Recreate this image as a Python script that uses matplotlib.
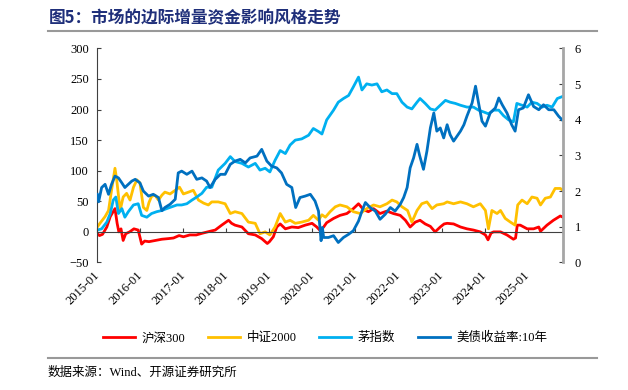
import matplotlib
matplotlib.use("Agg")
import matplotlib.pyplot as plt
from matplotlib.lines import Line2D

# 沪深300 (left axis)
hs300_x = [2015.00, 2015.05, 2015.12, 2015.22, 2015.30, 2015.41, 2015.46, 2015.50, 2015.55, 2015.60,
           2015.66, 2015.75, 2015.85, 2015.95, 2016.03, 2016.10, 2016.20, 2016.35, 2016.50, 2016.65,
           2016.77, 2016.90, 2017.00, 2017.15, 2017.30, 2017.45, 2017.62, 2017.74, 2017.89, 2018.05,
           2018.12, 2018.20, 2018.36, 2018.51, 2018.67, 2018.82, 2018.95, 2019.00, 2019.09, 2019.17,
           2019.25, 2019.37, 2019.52, 2019.67, 2019.83, 2019.99, 2020.10, 2020.18, 2020.26, 2020.33,
           2020.49, 2020.64, 2020.80, 2020.95, 2021.07, 2021.19, 2021.30, 2021.42, 2021.57, 2021.73,
           2021.88, 2022.04, 2022.16, 2022.27, 2022.39, 2022.50, 2022.62, 2022.74, 2022.85, 2022.97,
           2023.06, 2023.13, 2023.28, 2023.44, 2023.59, 2023.74, 2023.90, 2024.02, 2024.08, 2024.15,
           2024.21, 2024.37, 2024.52, 2024.67, 2024.72, 2024.76, 2024.83, 2024.99, 2025.14, 2025.26,
           2025.30, 2025.45, 2025.60, 2025.76, 2025.82]
hs300_y = [-3, -6, -4, 8, 25, 38, 14, 0, 5, -14,
           -3, 0, 5, 3, -20, -15, -16, -14, -12, -11,
           -10, -6, -8, -5, -5, -2, 1, 3, 11, 19,
           14, 11, 8, -3, -5, -11, -19, -16, -8, 8,
           13, 5, 8, 7, 11, 14, 8, 2, 8, 15,
           22, 27, 30, 38, 46, 36, 33, 38, 30, 34,
           30, 27, 19, 8, 16, 19, 13, 9, 0, 8,
           13, 14, 13, 8, 5, 3, 0, -5, -13, -2,
           0, 0, -5, -12, -10, 11, 11, 5, 5, 8,
           1, 11, 19, 26, 24]

# 中证2000 (left axis)
zz2000_x = [2015.00, 2015.06, 2015.18, 2015.26, 2015.33, 2015.41, 2015.45, 2015.53, 2015.60, 2015.68,
            2015.76, 2015.84, 2015.92, 2015.99, 2016.07, 2016.15, 2016.20, 2016.26, 2016.34, 2016.42,
            2016.50, 2016.57, 2016.69, 2016.81, 2016.91, 2017.00, 2017.12, 2017.23, 2017.35, 2017.47,
            2017.58, 2017.66, 2017.81, 2017.97, 2018.09, 2018.20, 2018.36, 2018.51, 2018.67, 2018.78,
            2018.90, 2019.01, 2019.13, 2019.25, 2019.37, 2019.48, 2019.60, 2019.75, 2019.91, 2020.02,
            2020.14, 2020.22, 2020.30, 2020.41, 2020.53, 2020.64, 2020.80, 2020.95, 2021.11, 2021.26,
            2021.42, 2021.57, 2021.73, 2021.85, 2021.96, 2022.08, 2022.21, 2022.31, 2022.43, 2022.54,
            2022.66, 2022.78, 2022.89, 2023.05, 2023.13, 2023.28, 2023.44, 2023.59, 2023.74, 2023.90,
            2024.02, 2024.09, 2024.17, 2024.29, 2024.37, 2024.48, 2024.60, 2024.71, 2024.77, 2024.87,
            2024.99, 2025.10, 2025.22, 2025.30, 2025.41, 2025.53, 2025.64, 2025.76, 2025.82]
zz2000_y = [8, 14, 25, 35, 68, 104, 85, 35, 57, 63,
            52, 73, 85, 80, 40, 35, 48, 58, 60, 52,
            60, 65, 62, 68, 73, 62, 65, 68, 52, 47,
            44, 49, 49, 46, 30, 33, 30, 16, 14, -3,
            0, -5, 8, 30, 16, 19, 14, 16, 19, 27,
            19, 28, 24, 33, 41, 44, 41, 33, 30, 38,
            44, 41, 46, 52, 49, 41, 35, 16, 35, 46,
            49, 38, 44, 46, 49, 46, 49, 46, 41, 46,
            35, 5, 35, 30, 35, 22, 16, 11, 44, 52,
            46, 57, 55, 44, 55, 57, 71, 71, 68]

# 茅指数 (left axis)
mao_x = [2015.00, 2015.10, 2015.22, 2015.30, 2015.37, 2015.43, 2015.49, 2015.57, 2015.64, 2015.72,
         2015.84, 2015.95, 2016.03, 2016.15, 2016.26, 2016.38, 2016.50, 2016.61, 2016.73, 2016.85,
         2016.96, 2017.08, 2017.20, 2017.31, 2017.43, 2017.54, 2017.66, 2017.81, 2017.97, 2018.09,
         2018.20, 2018.36, 2018.51, 2018.67, 2018.78, 2018.90, 2019.01, 2019.13, 2019.25, 2019.37,
         2019.48, 2019.60, 2019.75, 2019.91, 2020.02, 2020.14, 2020.22, 2020.33, 2020.49, 2020.60,
         2020.72, 2020.84, 2020.95, 2021.07, 2021.15, 2021.26, 2021.38, 2021.50, 2021.61, 2021.73,
         2021.85, 2021.96, 2022.08, 2022.20, 2022.31, 2022.43, 2022.50, 2022.62, 2022.74, 2022.85,
         2022.97, 2023.09, 2023.20, 2023.32, 2023.44, 2023.59, 2023.74, 2023.86, 2023.98, 2024.09,
         2024.21, 2024.33, 2024.44, 2024.56, 2024.67, 2024.75, 2024.87, 2024.99, 2025.10, 2025.22,
         2025.34, 2025.45, 2025.57, 2025.69, 2025.80]
mao_y = [3, 5, 16, 30, 52, 57, 30, 38, 24, 33,
         44, 46, 27, 24, 30, 33, 35, 38, 41, 44,
         44, 46, 52, 57, 63, 73, 73, 101, 112, 123,
         115, 112, 106, 112, 101, 104, 98, 117, 133, 128,
         142, 150, 152, 158, 169, 164, 160, 183, 199, 212,
         218, 223, 237, 253, 232, 242, 240, 242, 229, 232,
         226, 226, 212, 204, 201, 212, 218, 210, 201, 199,
         207, 215, 212, 210, 207, 204, 204, 199, 196, 193,
         199, 199, 190, 183, 180, 210, 207, 204, 212, 210,
         204, 207, 204, 218, 221]

# 美债收益率:10年 (right axis, %)
ust_x = [2015.00, 2015.03, 2015.10, 2015.18, 2015.26, 2015.33, 2015.41, 2015.49, 2015.57, 2015.64,
         2015.72, 2015.80, 2015.88, 2015.99, 2016.07, 2016.19, 2016.30, 2016.42, 2016.50, 2016.57,
         2016.69, 2016.81, 2016.88, 2016.96, 2017.08, 2017.20, 2017.31, 2017.43, 2017.54, 2017.62,
         2017.74, 2017.86, 2017.97, 2018.09, 2018.20, 2018.32, 2018.44, 2018.55, 2018.71, 2018.82,
         2018.94, 2019.05, 2019.17, 2019.28, 2019.40, 2019.52, 2019.61, 2019.71, 2019.83, 2019.95,
         2020.06, 2020.14, 2020.20, 2020.23, 2020.26, 2020.37, 2020.49, 2020.60, 2020.72, 2020.84,
         2020.95, 2021.07, 2021.15, 2021.23, 2021.34, 2021.46, 2021.57, 2021.69, 2021.81, 2021.92,
         2022.04, 2022.12, 2022.20, 2022.27, 2022.35, 2022.43, 2022.49, 2022.58, 2022.66, 2022.74,
         2022.82, 2022.89, 2022.97, 2023.05, 2023.13, 2023.20, 2023.28, 2023.36, 2023.44, 2023.52,
         2023.59, 2023.71, 2023.79, 2023.86, 2023.94, 2024.02, 2024.13, 2024.25, 2024.33, 2024.41,
         2024.52, 2024.63, 2024.71, 2024.79, 2024.90, 2025.02, 2025.14, 2025.26, 2025.37, 2025.49,
         2025.61, 2025.72, 2025.80]
ust_y = [1.91, 1.70, 2.10, 2.19, 1.91, 2.19, 2.42, 2.37, 2.23, 2.10,
         2.19, 2.28, 2.33, 2.23, 2.00, 1.86, 1.91, 1.82, 1.45, 1.54,
         1.63, 1.77, 2.51, 2.56, 2.47, 2.56, 2.33, 2.37, 2.28, 2.10,
         2.33, 2.47, 2.47, 2.75, 2.84, 2.89, 2.79, 2.93, 2.98, 3.17,
         2.84, 2.70, 2.65, 2.51, 2.19, 2.10, 1.54, 1.82, 1.86, 1.91,
         1.72, 1.44, 0.61, 0.98, 0.70, 0.70, 0.75, 0.56, 0.70, 0.79,
         0.89, 1.16, 1.44, 1.68, 1.54, 1.44, 1.21, 1.35, 1.54, 1.44,
         1.63, 1.82, 2.10, 2.65, 2.93, 3.31, 3.00, 2.61, 3.12, 3.77,
         4.19, 3.68, 3.77, 3.49, 3.86, 3.58, 3.40, 3.54, 3.68, 3.86,
         4.10, 4.47, 4.94, 4.47, 3.96, 3.82, 4.19, 4.33, 4.61, 4.42,
         4.19, 3.86, 3.68, 4.28, 4.33, 4.70, 4.37, 4.28, 4.42, 4.28,
         4.28, 4.10, 4.00]

years = list(range(2015, 2026))
year_labels = [f"{y}-01" for y in years]

serif = ["Liberation Serif", "Noto Sans CJK SC"]

fig = plt.figure(figsize=(6.28, 3.90), dpi=100)
ax = fig.add_axes([0.155, 0.327, 0.742, 0.549])
ax2 = ax.twinx()

ax.plot(hs300_x, hs300_y, color="#FF0000", lw=2, label="沪深300")
ax.plot(zz2000_x, zz2000_y, color="#FFC000", lw=2, label="中证2000")
ax.plot(mao_x, mao_y, color="#00B0F0", lw=2, label="茅指数")
ax2.plot(ust_x, ust_y, color="#0070C0", lw=2, label="美债收益率:10年")

ax.set_xlim(2015.0, 2025.83)
ax.set_ylim(-50, 300)
ax.set_yticks(range(-50, 301, 50))
ax2.set_ylim(0, 6)
ax2.set_yticks(range(0, 7))

# x axis line sits on the zero line, labels at the bottom
ax.spines["bottom"].set_position(("data", 0))
ax.spines["bottom"].set_color("#404040")
ax.spines["left"].set_color("#404040")
ax.spines["top"].set_visible(False)
ax.spines["right"].set_visible(False)
ax.set_xticks(years)
ax.tick_params(axis="x", direction="in", length=3, labelbottom=False, color="#404040")
ax.tick_params(axis="y", direction="in", length=3, color="#404040", labelsize=9, pad=6)
for t in ax.get_yticklabels():
    t.set_family(serif)

for s in ["top", "bottom", "left"]:
    ax2.spines[s].set_visible(False)
ax2.spines["right"].set_color("#A6A6A6")
ax2.spines["right"].set_linewidth(2)
ax2.tick_params(axis="y", direction="in", length=3, color="#404040", labelsize=9, pad=8)
for t in ax2.get_yticklabels():
    t.set_family(serif)

sec = ax.secondary_xaxis("bottom")
sec.set_xticks(years)
sec.set_xticklabels(year_labels, rotation=45, ha="right", va="center",
                    rotation_mode="anchor", family=serif, fontsize=9)
sec.tick_params(length=0, pad=8)
sec.spines["bottom"].set_visible(False)

# title and rules
fig.text(49 / 628, 1 - 18 / 390, "图5：市场的边际增量资金影响风格走势", fontsize=12,
         fontweight="bold", color="#1F2F7A", family=["Noto Sans CJK SC"], va="center")
fig.add_artist(Line2D([48 / 628, 597 / 628], [1 - 31 / 390] * 2, color="#999999", lw=1.5))
fig.add_artist(Line2D([48 / 628, 597 / 628], [1 - 358 / 390] * 2, color="#999999", lw=1.5))
fig.text(48 / 628, 1 - 373 / 390, "数据来源：Wind、开源证券研究所", fontsize=9,
         family=serif, va="center")

h1, l1 = ax.get_legend_handles_labels()
h2, l2 = ax2.get_legend_handles_labels()
fig.legend(h1 + h2, l1 + l2, loc="center", bbox_to_anchor=(325 / 628, 1 - 338 / 390), ncol=4,
           frameon=False, prop={"family": serif, "size": 9}, handlelength=2.6,
           columnspacing=1.8, handletextpad=0.5)

fig.savefig("out.png", dpi=100)
